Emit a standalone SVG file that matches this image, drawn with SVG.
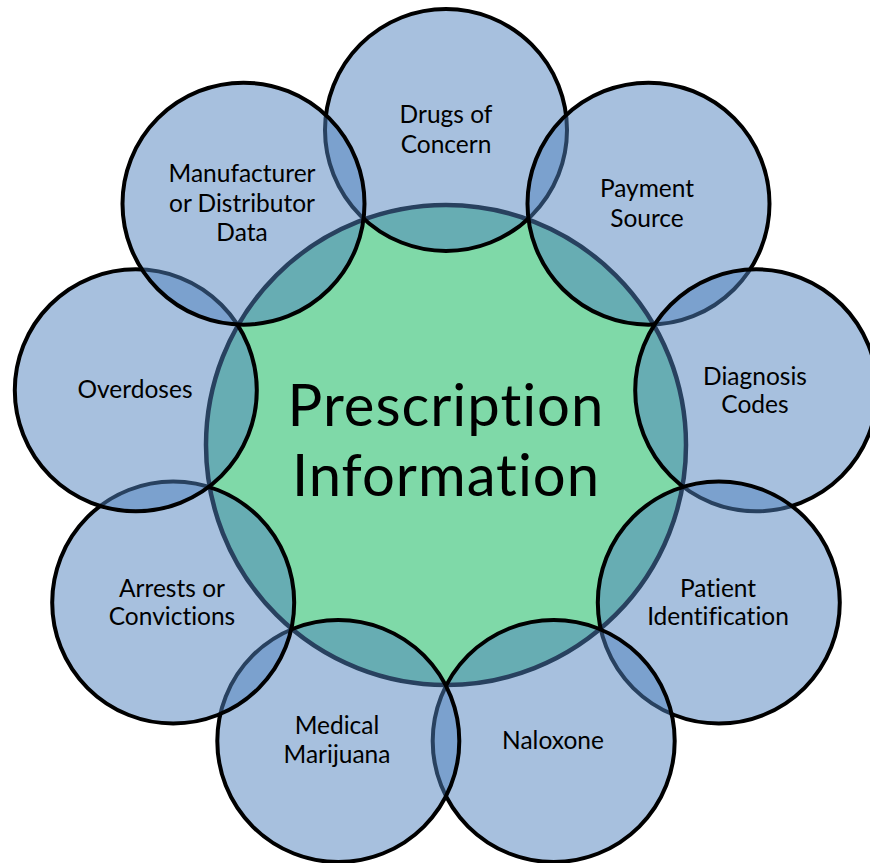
<svg xmlns="http://www.w3.org/2000/svg" width="870" height="863" viewBox="0 0 870 863">
<style>
.bg{fill:#ffffff}
.center{fill:#7FD9A8;stroke:#000000;stroke-width:4.5}
.outer{fill:#4F81BD;fill-opacity:0.5;stroke:#000000;stroke-width:4}
.lbl{font-family:Lato,"Open Sans","Liberation Sans",sans-serif;font-size:24.5px;fill:#000000;text-anchor:middle;font-variant-ligatures:none;font-feature-settings:"liga" 0,"clig" 0}
.big{font-family:Lato,"Open Sans","Liberation Sans",sans-serif;font-size:58px;letter-spacing:1px;fill:#000000;text-anchor:middle;font-variant-ligatures:none;font-feature-settings:"liga" 0,"clig" 0}
</style>
<rect class="bg" x="0" y="0" width="870" height="863"/>
<g id="prescription-information">
<circle class="center" cx="446" cy="445" r="240"/>
<text class="big" x="446" y="426">Prescription</text>
<text class="big" x="446" y="496">Information</text>
</g>
<g id="drugs-of-concern">
<circle class="outer" cx="446" cy="130" r="121"/>
<text class="lbl" x="446" y="123">Drugs of</text>
<text class="lbl" x="446" y="153">Concern</text>
</g>
<g id="payment-source">
<circle class="outer" cx="648.5" cy="203.7" r="121"/>
<text class="lbl" x="647" y="197">Payment</text>
<text class="lbl" x="647" y="227">Source</text>
</g>
<g id="diagnosis-codes">
<circle class="outer" cx="756.2" cy="390.3" r="121"/>
<text class="lbl" x="755" y="385">Diagnosis</text>
<text class="lbl" x="755" y="413">Codes</text>
</g>
<g id="patient-identification">
<circle class="outer" cx="718.8" cy="602.5" r="121"/>
<text class="lbl" x="718" y="597">Patient</text>
<text class="lbl" x="718" y="625">Identification</text>
</g>
<g id="naloxone">
<circle class="outer" cx="553.7" cy="741" r="121"/>
<text class="lbl" x="553" y="749">Naloxone</text>
</g>
<g id="medical-marijuana">
<circle class="outer" cx="338.3" cy="741" r="121"/>
<text class="lbl" x="337" y="734">Medical</text>
<text class="lbl" x="337" y="763">Marijuana</text>
</g>
<g id="arrests-or-convictions">
<circle class="outer" cx="173.2" cy="602.5" r="121"/>
<text class="lbl" x="172" y="597">Arrests or</text>
<text class="lbl" x="172" y="625">Convictions</text>
</g>
<g id="overdoses">
<circle class="outer" cx="135.8" cy="390.3" r="121"/>
<text class="lbl" x="135" y="398">Overdoses</text>
</g>
<g id="manufacturer-or-distributor-data">
<circle class="outer" cx="243.5" cy="203.7" r="121"/>
<text class="lbl" x="242" y="182">Manufacturer</text>
<text class="lbl" x="242" y="212">or Distributor</text>
<text class="lbl" x="242" y="241">Data</text>
</g>
</svg>
